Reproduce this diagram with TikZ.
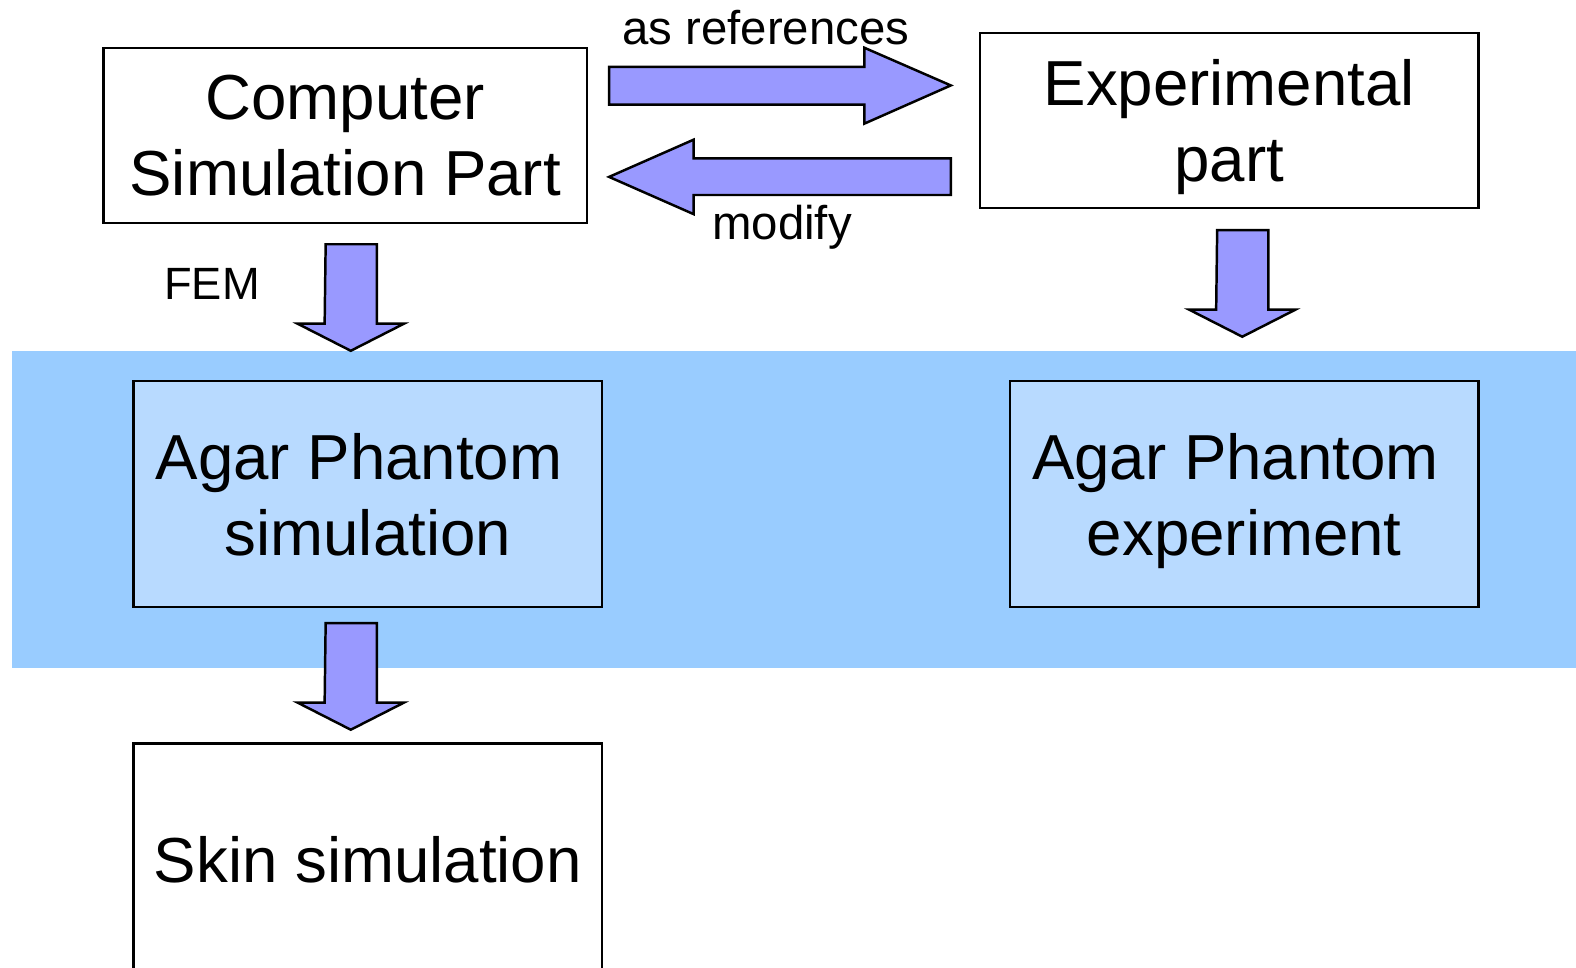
\documentclass[tikz,border=0pt]{standalone}
\usepackage{fontspec}
\setmainfont{Liberation Sans}
\definecolor{bandblue}{RGB}{153,204,255}
\definecolor{boxblue}{RGB}{184,218,255}
\definecolor{arrowblue}{RGB}{153,153,255}
\usetikzlibrary{positioning}
\tikzset{
  box/.style={draw, line width=0.7pt, align=center, inner sep=0pt, text depth=0pt,
    font=\fontsize{18pt}{21.5pt}\selectfont},
  agar/.style={box, fill=boxblue, text depth=-2.3pt},
  lbl/.style={font=\fontsize{13.4pt}{16pt}\selectfont, anchor=base},
  blockarrow/.style={draw, line width=0.7pt, fill=arrowblue, line join=miter}
}
% down block arrow from top centre
\newcommand{\downblock}[1]{%
  \draw[blockarrow] (#1) ++(-25.5,0) -- ++(51,0) -- ++(0,79) -- ++(27,0)
    -- ++(-53,27) -- ++(-53,-27) -- ++(27,0) -- cycle;}

\begin{document}
\begin{tikzpicture}[x=0.01cm,y=-0.01cm]
  \clip (0,0) rectangle (1568,963);

  \fill [bandblue] (12,349) rectangle (1568,665);

  \node [box, minimum width=4.81cm, minimum height=1.74cm] (comp) at (343.5,135) {Computer\\Simulation Part};
  \node [box, minimum width=4.96cm, minimum height=1.74cm] (expt) at (1223,120) {Experimental\\part};
  \node [agar, minimum width=4.66cm, minimum height=2.25cm] (agarsim) at (366,491.5) {Agar Phantom\kern0.278em\\simulation};
  \node [agar, minimum width=4.66cm, minimum height=2.25cm] (agarexp) at (1238,491.5) {Agar Phantom\kern0.278em\\experiment};
  \node [box, minimum width=4.66cm, minimum height=2.3cm] (skin) at (366,855) {Skin simulation};

  % block arrows between the top boxes
  \coordinate (refs) at (606,85);
  \coordinate (mod) at (946,176);
  \draw [blockarrow] (refs) ++(0,-18.5) -- ++(254,0) -- ++(0,-19) -- (946,85)
    -- (860,123) -- ++(0,-19) -- ++(-254,0) -- cycle;
  \draw [blockarrow] (mod) ++(0,-18.5) -- ++(-256,0) -- ++(0,-18.5) -- (606,176)
    -- (690,213) -- ++(0,-19) -- ++(256,0) -- cycle;
  \node [lbl] (refslbl) at (762,44) {as references};
  \node [lbl] (modlbl) at (778,238) {modify};

  % downward arrows
  \coordinate (femtop) at (349.5,243);
  \coordinate (exptop) at (1236.5,229);
  \coordinate (skintop) at (349.5,620);
  \downblock{femtop}
  \downblock{exptop}
  \downblock{skintop}
  \node [lbl, font=\fontsize{12.8pt}{15pt}\selectfont] (femlbl) at (211,298) {FEM};
\end{tikzpicture}
\end{document}
